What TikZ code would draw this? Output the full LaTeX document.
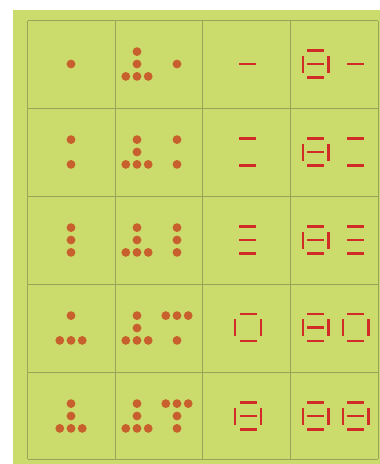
\documentclass[tikz,border=0pt]{standalone}
\definecolor{bggreen}{RGB}{204,220,108}
\definecolor{gridc}{RGB}{152,164,88}
\definecolor{dotc}{RGB}{200,96,46}
\definecolor{matchc}{RGB}{210,44,40}
\tikzset{
  gridline/.style={draw=gridc, line width=0.8pt},
  matchstick/.style={draw=matchc, line width=2.4pt},
  ball/.style={fill=dotc}
}
\newcommand\dotat[2]{\fill[ball] (#1,#2) circle (4.4pt);}
\newcommand\hmatch[2]{\draw[matchstick] (#1-8.5,#2) -- (#1+8.5,#2);}
\newcommand\vmatch[2]{\draw[matchstick] (#1,#2-8.5) -- (#1,#2+8.5);}
\newcommand\sqbox[2]{\hmatch{#1}{#2-13.5}\hmatch{#1}{#2+13.5}\vmatch{#1-12.8}{#2}\vmatch{#1+12.8}{#2}}
\newcommand\ebox[2]{\sqbox{#1}{#2}\hmatch{#1}{#2}}
\newcommand\tri[1]{\dotat{137}{#1-12.4}\dotat{137}{#1}\dotat{125.8}{#1+12.4}\dotat{137}{#1+12.4}\dotat{148.2}{#1+12.4}}
\begin{document}
\begin{tikzpicture}[x=1pt,y=-1pt]
\useasboundingbox (0,0) rectangle (380,464);
\fill[white] (0,0) rectangle (380,464);
\fill[bggreen] (13,10) rectangle (380,464);
% grid
\foreach \gx in {27.5,115,202.5,290,378} \draw[gridline] (\gx,20.5) -- (\gx,459);
\foreach \gy in {20.5,108,196,284,372,459} \draw[gridline] (27.5,\gy) -- (378,\gy);
% column 1
\dotat{71}{64}
\dotat{71}{139.6}\dotat{71}{164.4}
\dotat{71}{227.6}\dotat{71}{240}\dotat{71}{252.4}
\dotat{71}{315.6}\dotat{59.8}{340.4}\dotat{71}{340.4}\dotat{82.2}{340.4}
\dotat{71}{403.6}\dotat{71}{416}\dotat{59.8}{428.4}\dotat{71}{428.4}\dotat{82.2}{428.4}
% column 2
\tri{64}\dotat{177}{64}
\tri{152}\dotat{177}{139.6}\dotat{177}{164.4}
\tri{240}\dotat{177}{227.6}\dotat{177}{240}\dotat{177}{252.4}
\tri{328}\dotat{165.8}{315.6}\dotat{177}{315.6}\dotat{188.2}{315.6}\dotat{177}{340.4}
\tri{416}\dotat{165.8}{403.6}\dotat{177}{403.6}\dotat{188.2}{403.6}\dotat{177}{416}\dotat{177}{428.4}
% column 3
\hmatch{247.5}{64}
\hmatch{247.5}{138.5}\hmatch{247.5}{165.5}
\hmatch{247.5}{226.5}\hmatch{247.5}{240}\hmatch{247.5}{253.5}
\sqbox{248}{327.5}
\ebox{248}{416}
% column 4
\ebox{315.5}{64}\hmatch{355.5}{64}
\ebox{315.5}{152}\hmatch{355.5}{138.5}\hmatch{355.5}{165.5}
\ebox{315.5}{240}\hmatch{355.5}{226.5}\hmatch{355.5}{240}\hmatch{355.5}{253.5}
\ebox{315.5}{327.5}\sqbox{355.5}{327.5}
\ebox{315.5}{416}\ebox{355.5}{416}
\end{tikzpicture}
\end{document}
